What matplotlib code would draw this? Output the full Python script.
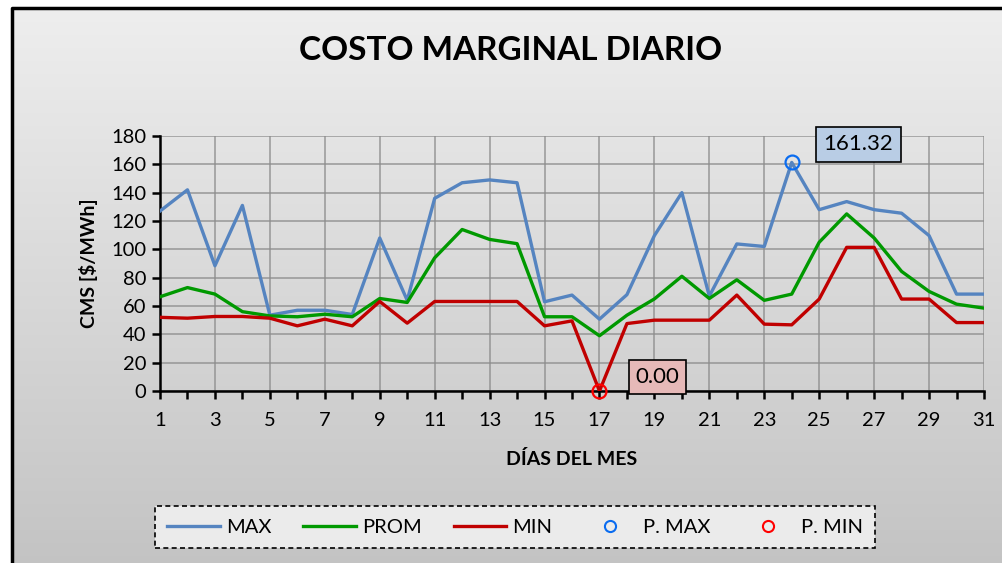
import numpy as np
import matplotlib.pyplot as plt
from matplotlib.lines import Line2D

dias = np.arange(1, 32)
cm_max = [127, 142, 88.4, 131, 53.5, 57, 57, 54, 108, 64, 136, 147, 149, 147, 63,
          67.7, 50.7, 68, 109.7, 140, 67, 103.8, 102, 161.32, 128, 133.7, 128, 125.5,
          109.7, 68.4, 68.4]
cm_prom = [66.5, 73, 68.4, 56, 53, 52.4, 54.2, 52.4, 65.3, 62.5, 94, 114, 107, 104, 52.4,
           52.4, 39, 53.5, 65, 81, 65.3, 78.5, 64, 68.4, 105, 125, 108, 84.4, 70.3,
           61.3, 58.5]
cm_min = [52, 51.4, 52.6, 52.6, 51.4, 46, 50.7, 46, 63.2, 47.9, 63.2, 63.2, 63.2, 63.2, 46,
          49.5, 0.0, 47.6, 50, 50, 50, 67.7, 47.2, 46.7, 64.9, 101.4, 101.4, 64.9, 64.9,
          48.3, 48.3]

plt.rcParams['font.family'] = ['Lato', 'DejaVu Sans']

fig = plt.figure(figsize=(10.02, 5.63), dpi=100)
fig.patch.set_facecolor('white')

# background gradient + frame
bg = fig.add_axes([0, 0, 1, 1], zorder=-10)
bg.set_xlim(0, 1002)
bg.set_ylim(563, 0)
bg.axis('off')
grad = np.linspace(0, 1, 256).reshape(-1, 1)
bg.imshow(grad, cmap=plt.matplotlib.colors.LinearSegmentedColormap.from_list('g', ['#eeeeee', '#c3c3c3']),
          extent=[12, 1010, 570, 8], aspect='auto')
bg.plot([12, 12, 1010], [570, 8, 8], color='black', lw=2.5)

ax = fig.add_axes([160 / 1002, 1 - 391 / 563, 824 / 1002, 255 / 563])
ax.patch.set_alpha(0)
ax.plot(dias, cm_max, color='#5584c0', lw=2.4, label='MAX', zorder=3)
ax.plot(dias, cm_prom, color='#009900', lw=2.4, label='PROM', zorder=3)
ax.plot(dias, cm_min, color='#c00000', lw=2.4, label='MIN', zorder=3)

i_max = int(np.argmax(cm_max))
i_min = int(np.argmin(cm_min))
ax.plot(dias[i_max], cm_max[i_max], 'o', mfc='none', mec='#0a6cf0', ms=10, mew=1.6, zorder=4, clip_on=False)
ax.plot(dias[i_min], cm_min[i_min], 'o', mfc='none', mec='#ff0000', ms=10, mew=1.6, zorder=4, clip_on=False)

ax.annotate(f'{cm_max[i_max]:.2f}', (dias[i_max], cm_max[i_max]), xytext=(48, 13),
            textcoords='offset points', fontsize=16, ha='center', va='center',
            bbox=dict(boxstyle='square,pad=0.35', fc='#b9cde5', ec='black', lw=1.2))
ax.annotate(f'{cm_min[i_min]:.2f}', (dias[i_min], cm_min[i_min]), xytext=(42, 10),
            textcoords='offset points', fontsize=16, ha='center', va='center',
            bbox=dict(boxstyle='square,pad=0.3', fc='#e6b9b8', ec='black', lw=1.2))

ax.set_xlim(1, 31)
ax.set_ylim(0, 180)
ax.set_xticks(np.arange(1, 32, 2))
ax.set_xticks(np.arange(2, 32, 2), minor=True)
ax.set_yticks(np.arange(0, 181, 20))
ax.grid(True, color='#8c8c8c', lw=1.2, alpha=0.8)
ax.set_axisbelow(True)
for s in ['top', 'right']:
    ax.spines[s].set_visible(False)
for s in ['left', 'bottom']:
    ax.spines[s].set_linewidth(1.8)
ax.tick_params(axis='both', labelsize=14.5, direction='out', width=1.8, length=6)
ax.tick_params(axis='x', which='both', direction='out', width=1.8, length=6, pad=9)
ax.tick_params(axis='y', pad=4)
ax.set_xlabel('DÍAS DEL MES', fontsize=14, fontweight='bold', labelpad=15)
ax.set_ylabel('CMS [$/MWh]', fontsize=14, fontweight='bold', labelpad=9)

fig.text(511 / 1002, 1 - 50 / 563, 'COSTO MARGINAL DIARIO', fontsize=24, fontweight='bold',
         ha='center', va='center')

handles = [Line2D([], [], color='#5584c0', lw=2.4),
           Line2D([], [], color='#009900', lw=2.4),
           Line2D([], [], color='#c00000', lw=2.4),
           Line2D([], [], ls='none', marker='o', mfc='none', mec='#0a6cf0', ms=8, mew=1.5),
           Line2D([], [], ls='none', marker='o', mfc='none', mec='#ff0000', ms=8, mew=1.5)]
leg = fig.legend(handles, ['MAX', 'PROM', 'MIN', 'P. MAX', 'P. MIN'], ncol=5,
                 loc='center', bbox_to_anchor=(515 / 1002, 1 - 527 / 563),
                 fontsize=14.5, frameon=True, fancybox=False, columnspacing=1.6,
                 handlelength=2.6, handletextpad=0.3, borderpad=0.6, borderaxespad=0)
fr = leg.get_frame()
fr.set_facecolor('#ebebeb')
fr.set_edgecolor('black')
fr.set_linestyle((0, (3, 2)))
fr.set_linewidth(1.2)
fr.set_alpha(1)

fig.savefig('out.png', dpi=100)
